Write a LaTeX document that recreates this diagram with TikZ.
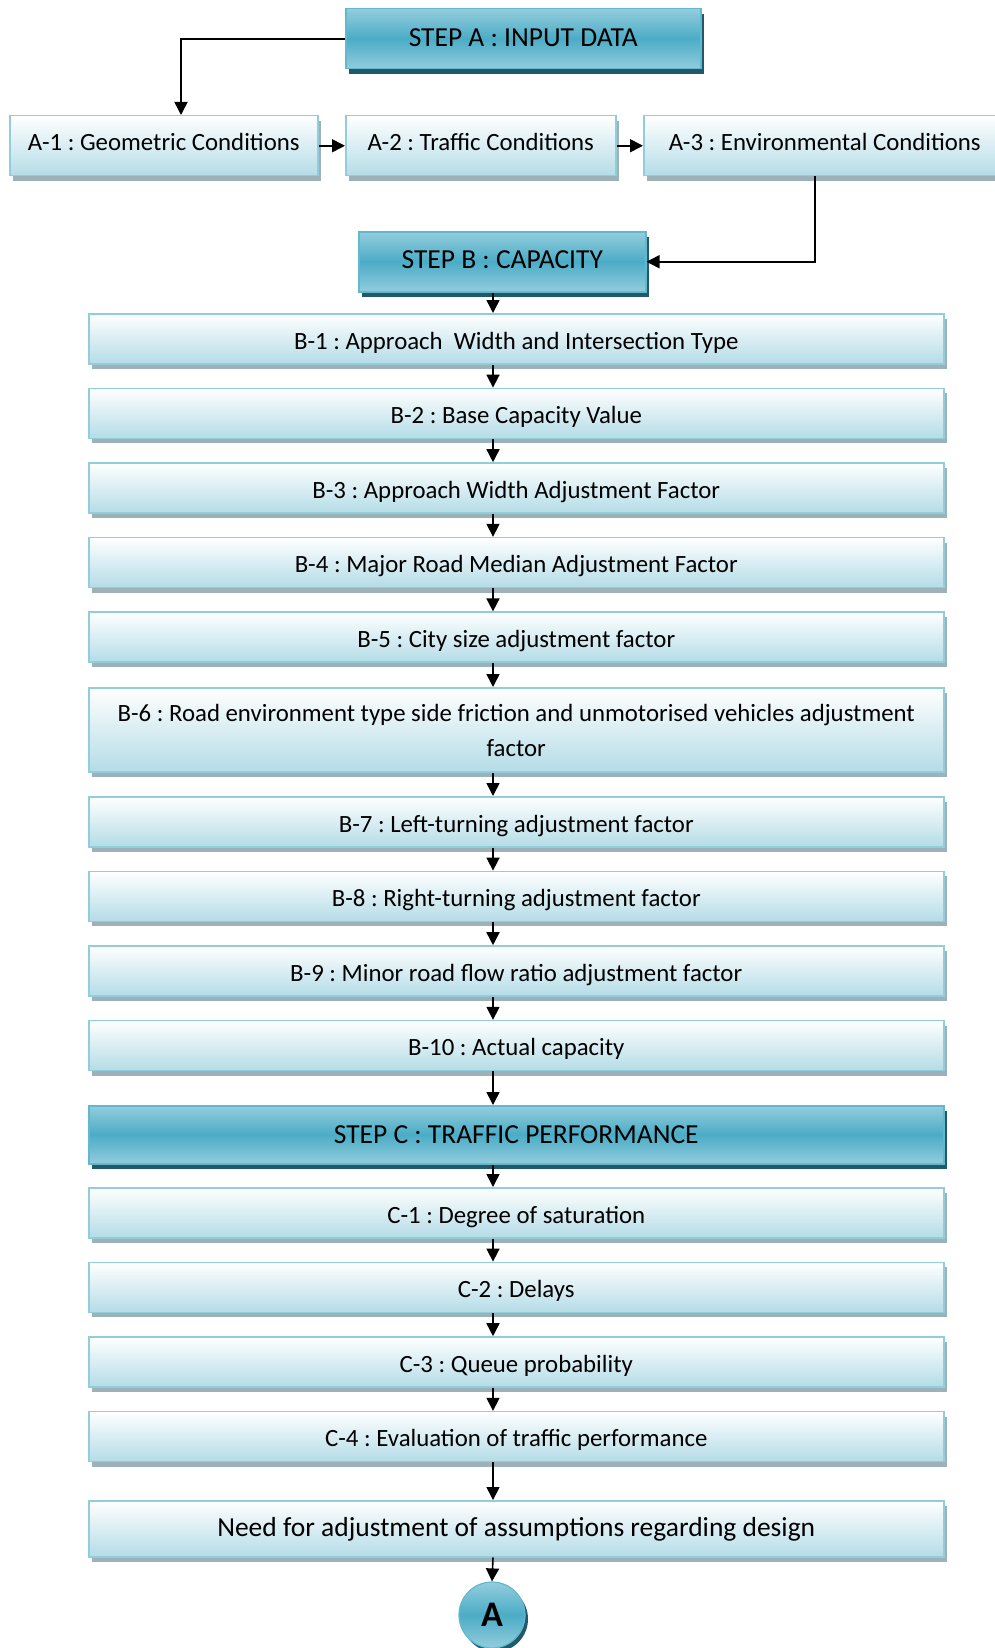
\documentclass[tikz,border=0pt]{standalone}
\usepackage{fontspec}
\setmainfont{Carlito}
\usetikzlibrary{arrows.meta,shadows,calc}
\definecolor{lbord}{HTML}{92CDDC}
\definecolor{lbot}{HTML}{B4DCE7}
\definecolor{lshad}{HTML}{9DB1B9}
\definecolor{dmid}{HTML}{4BACC6}
\definecolor{dtop}{HTML}{93CDDD}
\definecolor{dbord}{HTML}{62B8CE}
\definecolor{dshad}{HTML}{215968}
\begin{document}
\frenchspacing
\begin{tikzpicture}[x=1pt,y=-1pt,
  lbox/.style={draw=lbord, line width=1.5pt, top color=white, bottom color=lbot,
    anchor=north west, inner sep=0pt, text height=20.5pt, text depth=0pt,
    font=\fontsize{24.8}{35}\selectfont,
    drop shadow={shadow xshift=3pt, shadow yshift=-5pt, fill=lshad, opacity=1}},
  dbox/.style={draw=dbord, line width=1.5pt, top color=dtop, bottom color=dtop, middle color=dmid,
    anchor=north west, inner sep=0pt, text height=15pt, text depth=0pt,
    font=\fontsize{27.5}{32}\selectfont,
    drop shadow={shadow xshift=3pt, shadow yshift=-5pt, fill=dshad, opacity=1}},
  abox/.style={lbox, text height=9.6pt},
  arr/.style={line width=1.6pt, -{Triangle[width=13pt,length=13pt]}}
]
\clip (0,0) rectangle (995,1648);
\fill[white] (0,0) rectangle (995,1648);
\coordinate (ax) at (493,0);

\node[dbox, minimum width=355pt, minimum height=60pt] (sa) at (345,8) {STEP A : INPUT DATA};
\node[abox, minimum width=308pt, minimum height=60pt] (a1) at (9,115) {A-1 : Geometric Conditions};
\node[abox, minimum width=270pt, minimum height=60pt] (a2) at (345,115) {A-2 : Traffic Conditions};
\node[abox, minimum width=362pt, minimum height=60pt] (a3) at (643,115) {A-3 : Environmental Conditions};
\node[dbox, minimum width=287pt, minimum height=60pt, text height=12.8pt] (sb) at (358,231) {STEP B : CAPACITY};

\node[lbox, minimum width=855pt, minimum height=50pt] (b1) at (88,313) {B-1 : Approach\ \ Width and Intersection Type};
\node[lbox, minimum width=855pt, minimum height=50pt] (b2) at (88,387.6) {B-2 : Base Capacity Value};
\node[lbox, minimum width=855pt, minimum height=50pt] (b3) at (88,462.2) {B-3 : Approach Width Adjustment Factor};
\node[lbox, minimum width=855pt, minimum height=50pt] (b4) at (88,536.8) {B-4 : Major Road Median Adjustment Factor};
\node[lbox, minimum width=855pt, minimum height=50pt] (b5) at (88,611.4) {B-5 : City size adjustment factor};
\node[lbox, minimum width=855pt, minimum height=84pt, text height=0pt, text depth=16.6pt] (b6) at (88,687)
  {\begin{tabular}[t]{@{}c@{}}B-6 : Road environment type side friction and unmotorised vehicles adjustment\\factor\end{tabular}};
\node[lbox, minimum width=855pt, minimum height=50pt] (b7) at (88,796) {B-7 : Left-turning adjustment factor};
\node[lbox, minimum width=855pt, minimum height=50pt] (b8) at (88,870.6) {B-8 : Right-turning adjustment factor};
\node[lbox, minimum width=855pt, minimum height=50pt] (b9) at (88,945.2) {B-9 : Minor road flow ratio adjustment factor};
\node[lbox, minimum width=855pt, minimum height=50pt] (b10) at (88,1019.8) {B-10 : Actual capacity};

\node[dbox, minimum width=855pt, minimum height=58pt, text height=17pt] (sc) at (88,1105) {STEP C : TRAFFIC PERFORMANCE};
\node[lbox, minimum width=855pt, minimum height=50pt] (c1) at (88,1187) {C-1 : Degree of saturation};
\node[lbox, minimum width=855pt, minimum height=50pt] (c2) at (88,1261.6) {C-2 : Delays};
\node[lbox, minimum width=855pt, minimum height=50pt] (c3) at (88,1336.2) {C-3 : Queue probability};
\node[lbox, minimum width=855pt, minimum height=50pt] (c4) at (88,1410.8) {C-4 : Evaluation of traffic performance};
\node[lbox, minimum width=855pt, minimum height=56pt, text height=15pt, font=\fontsize{27.5}{32}\selectfont] (nd) at (88,1500) {Need for adjustment of assumptions regarding design};

\node[circle, draw=dbord, line width=1.2pt, top color=dtop, bottom color=dtop, middle color=dmid,
  minimum size=66pt, inner sep=0pt, font=\fontsize{36}{40}\bfseries,
  drop shadow={shadow xshift=3pt, shadow yshift=-4pt, fill=dshad, opacity=1}] (ca) at (492,1615) {A};

% connectors
\draw[arr] (sa.west) -| (a1.north -| 181,0);
\draw[arr] (a1.east) -- (a2.west);
\draw[arr] (a2.east) -- (a3.west);
\draw[arr] (a3.south -| 815,0) |- (sb.east);
\draw[arr] (sb.south -| ax) -- (b1.north -| ax);
\foreach \p/\q in {b1/b2,b2/b3,b3/b4,b4/b5,b5/b6,b6/b7,b7/b8,b8/b9,b9/b10,b10/sc,sc/c1,c1/c2,c2/c3,c3/c4,c4/nd}{
  \draw[arr] (\p.south -| ax) -- (\q.north -| ax);
}
\draw[arr] (nd.south -| ax) -- (ca.north);
\end{tikzpicture}
\end{document}
